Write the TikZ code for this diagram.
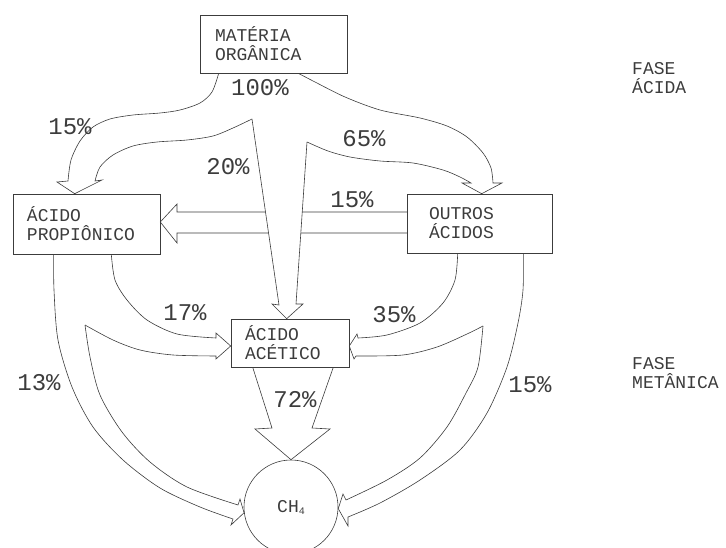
\documentclass[tikz,border=0pt]{standalone}
\usepackage{fontspec}
\newfontfamily\plotfont{Liberation Mono}
\definecolor{plotink}{RGB}{60,60,60}

\begin{document}
\begin{tikzpicture}[
    x=1pt, y=-1pt,
    every node/.style={font=\plotfont\fontsize{18pt}{19pt}\selectfont, text=plotink},
    blk/.style={rectangle, draw=plotink, line width=0.6pt,
        align=left, inner ysep=0pt},
    pct/.style={font=\plotfont\fontsize{24pt}{24pt}\selectfont},
    flow/.style={draw=plotink, line width=0.6pt, line join=miter},
]
\useasboundingbox (0,0) rectangle (726,548);

% ====== BOXES ======
\node[blk, minimum width=147pt, minimum height=58pt, inner xsep=15pt,
    text width=117pt] (mat) at (273.5,44) {MATÉRIA\\ORGÂNICA};
\node[blk, minimum width=147pt, minimum height=60pt, inner xsep=14pt,
    text width=119pt] (prop) at (86.5,224) {ÁCIDO\\PROPIÔNICO};
\node[blk, minimum width=145pt, minimum height=59pt, inner xsep=22pt,
    text width=101pt] (outr) at (479.5,223.5) {OUTROS\\ÁCIDOS};
\node[blk, minimum width=118pt, minimum height=48pt, inner xsep=14pt,
    text width=90pt] (acet) at (290,343) {ÁCIDO\\ACÉTICO};
\node[circle, draw=plotink, line width=0.6pt, minimum size=94pt, inner sep=0pt]
    (ch4) at (291,507) {CH\raisebox{-2pt}{\fontsize{10pt}{10pt}\selectfont 4}};

% ====== END POINTS ======
\coordinate (mat-l)  at ([xshift=19pt]mat.south west);
\coordinate (mat-r)  at ([xshift=-49pt]mat.south east);
\coordinate (prop-l) at ([xshift=41pt]prop.south west);
\coordinate (prop-r) at ([xshift=-49pt]prop.south east);
\coordinate (outr-l) at ([xshift=51pt]outr.south west);
\coordinate (outr-r) at ([xshift=-29pt]outr.south east);
\coordinate (acet-l) at ([xshift=22pt]acet.south west);
\coordinate (acet-r) at ([xshift=-16pt]acet.south east);

\coordinate (prop-tip)  at ([xshift=62pt]prop.north west);
\coordinate (prop-etip) at ([yshift=2pt]prop.east);
\coordinate (outr-tip)  at ([xshift=75pt]outr.north west);
\coordinate (acet-tip)  at ([xshift=56pt]acet.north west);
\coordinate (acet-ltip) at ([yshift=-3pt]acet.west);
\coordinate (acet-rtip) at ([yshift=-3pt]acet.east);

\coordinate (fork-l)  at (252,119);
\coordinate (fork-r)  at (307,142);
\coordinate (fork-bl) at (85,325);
\coordinate (fork-br) at (483,326);

% ====== FASE ACIDA ======
% 15% materia -> propionico
\draw[flow] plot[smooth] coordinates {(mat-l) (212,92) (200,103) (180,110)
        (160,113) (133,115) (110,119) (93,127) (80,141) (71,160) (68,181)}
    -- (57,182) -- (prop-tip) -- (102,180)
    -- plot[smooth] coordinates {(95,181) (100,167) (113,155) (133,146)
        (157,142) (187,140) (213,136) (233,128) (fork-l)};

% 65% materia -> outros
\draw[flow] plot[smooth] coordinates {(mat-r) (315,82) (345,97) (380,110)
        (420,118) (447,126) (467,137) (483,153) (491,168) (493,183)}
    -- (502,183) -- (outr-tip) -- (462,183)
    -- plot[smooth] coordinates {(471,183) (460,177) (443,170) (413,163)
        (380,161) (350,157) (328,151) (fork-r)};

% 15% outros -> propionico
\draw[flow] (407,212) -- (177,212) -- (177,204) -- (prop-etip)
    -- (177,243) -- (177,233) -- (407,233);

% 20% materia -> acetico (over the 15% arrow)
\draw[flow, fill=white] (fork-l) -- (279,305) -- (272,304) -- (acet-tip)
    -- (303,304) -- (296,304) -- (fork-r);

% ====== FASE METANICA ======
% 17% propionico -> acetico
\draw[flow] plot[smooth] coordinates {(prop-r) (115,280) (127,300) (147,320)
        (177,334) (216,338)}
    -- (216,333) -- (acet-ltip) -- (216,359)
    -- plot[smooth] coordinates {(216,356) (173,355) (140,350) (113,340) (fork-bl)};

% 13% propionico -> CH4
\draw[flow] plot[smooth] coordinates {(fork-bl) (90,357) (100,395) (122,432)
        (150,462) (187,487) (238,505)}
    -- (240,499) -- (ch4.187) -- (231,525)
    -- plot[smooth] coordinates {(233,519) (200,507) (160,488) (123,460)
        (93,427) (72,387) (58,340) (54,290) (prop-l)};

% 35% outros -> acetico
\draw[flow] plot[smooth] coordinates {(outr-l) (455,280) (443,303) (420,323)
        (387,335) (358,338)}
    -- (357,334) -- (acet-rtip) -- (354,359)
    -- plot[smooth] coordinates {(356,356) (403,355) (437,347) (467,334) (fork-br)};

% 15% outros -> CH4
\draw[flow] plot[smooth] coordinates {(fork-br) (478,367) (466,393) (447,427)
        (420,458) (387,480) (346,500)}
    -- (343,494) -- (ch4.-2) -- (348,526)
    -- plot[smooth] coordinates {(348,517) (380,503) (420,480) (460,450)
        (487,413) (507,367) (518,323) (523,290) (outr-r)};

% 72% acetico -> CH4
\draw[flow] (acet-l) -- (272,428) -- (255,429) -- (ch4.north)
    -- (330,429) -- (312,428) -- (acet-r);

% ====== LABELS ======
\node[pct] (l-100) at (260,88)  {100\%};
\node[pct] (l-15a) at (70,127)  {15\%};
\node[pct] (l-20)  at (228,167) {20\%};
\node[pct] (l-65)  at (364,139) {65\%};
\node[pct] (l-15b) at (352,200) {15\%};
\node[pct] (l-17)  at (185,313) {17\%};
\node[pct] (l-35)  at (394,315) {35\%};
\node[pct] (l-13)  at (39,383)  {13\%};
\node[pct] (l-15c) at (530,385) {15\%};
\node[pct] (l-72)  at (295,400) {72\%};

\node[anchor=west, align=left, inner sep=0pt] (fase-a) at (632,78)
    {FASE\\ÁCIDA};
\node[anchor=west, align=left, inner sep=0pt] (fase-m) at (632,373)
    {FASE\\METÂNICA};

\end{tikzpicture}
\end{document}
